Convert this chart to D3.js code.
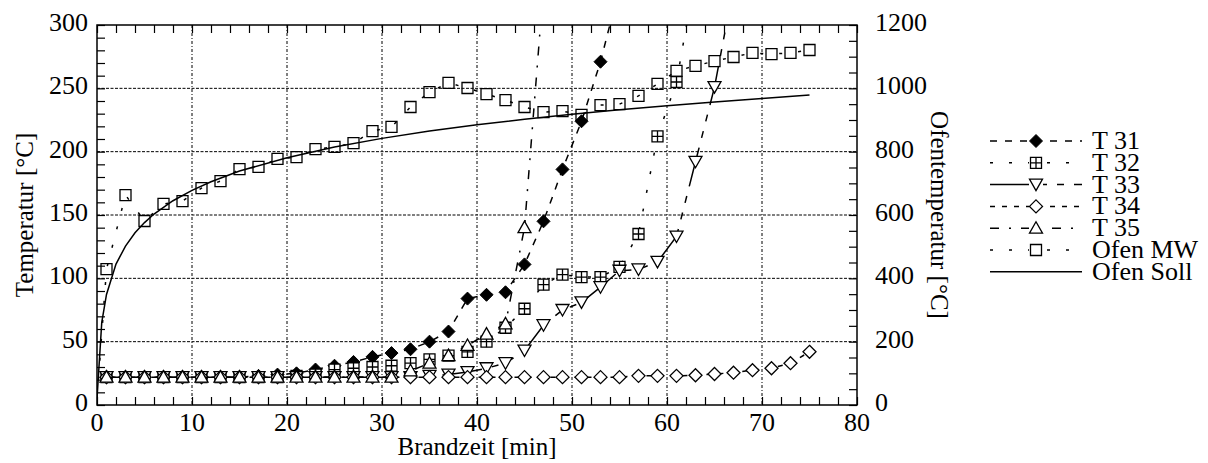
<!DOCTYPE html>
<html>
<head>
<meta charset="utf-8">
<script src="https://cdn.jsdelivr.net/npm/d3@7"></script>
<style>
  html, body { margin: 0; padding: 0; background: #fff; }
  svg { display: block; }
</style>
</head>
<body>
<svg id="chart" width="1208" height="463"></svg>
<script>
// ---------------- DATA ----------------
const xTicks = [0, 10, 20, 30, 40, 50, 60, 70, 80];
const yTicksLeft = [0, 50, 100, 150, 200, 250, 300];
const yTicksRight = [0, 200, 400, 600, 800, 1000, 1200];

// measurement times (min), markers at odd minutes
const tT31 = [1,3,5,7,9,11,13,15,17,19,21,23,25,27,29,31,33,35,37,39,41,43,45,47,49,51,53,55];
const vT31 = [22,22,22,22,22,22,22,22,23,24,25,28,31,34,38,41,44,50,58,84,87,89,111,145,186,224,271,330];

const tT32 = [1,3,5,7,9,11,13,15,17,19,21,23,25,27,29,31,33,35,37,39,41,43,45,47,49,51,53,55,57,59,61,63];
const vT32 = [22,22,22,22,22,22,22,22,22,22,23,24,28,29,30,31,33,36,39,42,50,61,76,95,103,101,101,109,135,212,255,340];

const tT33 = [1,3,5,7,9,11,13,15,17,19,21,23,25,27,29,31,33,35,37,39,41,43,45,47,49,51,53,55,57,59,61,63,65,67];
const vT33 = [22,22,22,22,22,22,22,22,22,22,22,22,22,22,22,22,22,23,24,26,29,33,43,63,75,81,93,106,107,113,133,192,251,330];

const tT34 = [1,3,5,7,9,11,13,15,17,19,21,23,25,27,29,31,33,35,37,39,41,43,45,47,49,51,53,55,57,59,61,63,65,67,69,71,73,75];
const vT34 = [22,22,22,22,22,22,22,22,22,22,22,22,22,22,22,22,22,22,22,22,22,22,22,22,22,22,22,22,23,23,23,23.5,24.5,25.5,27.5,29,33,42];

const tT35 = [1,3,5,7,9,11,13,15,17,19,21,23,25,27,29,31,33,35,37,39,41,43,45,47];
const vT35 = [22,22,22,22,22,22,22,22,22,22,22,22,22,22,22,22,27,33,39,47,56,64,140,330];

// furnace (right axis)
const tOfenMW = [0,1,3,5,7,9,11,13,15,17,19,21,23,25,27,29,31,33,35,37,39,41,43,45,47,49,51,53,55,57,59,61,63,65,67,69,71,73,75];
const vOfenMW = [20,429,663,581,635,644,685,707,745,752,777,783,808,815,827,865,878,941,988,1017,1001,982,963,941,925,928,916,947,950,976,1014,1055,1071,1086,1099,1112,1108,1112,1121];

const tOfenSoll = [0,0.5,1,2,3,4,5,6,8,10,12,15,20,25,30,35,40,45,50,55,60,65,70,75];
const vOfenSoll = [20,261,349,445,502,544,576,603,645,678,705,739,781,815,842,865,885,902,918,932,945,957,968,979];

const legendLabels = ["T 31", "T 32", "T 33", "T 34", "T 35", "Ofen MW", "Ofen Soll"];

// ---------------- LAYOUT ----------------
const FONT = '"Liberation Serif", "Times New Roman", serif';
const svg = d3.select("#chart");
const L = 97, R = 857, T = 25, B = 405;
const x = d3.scaleLinear().domain([0, 80]).range([L, R]);
const yL = d3.scaleLinear().domain([0, 300]).range([B, T]);
const yR = d3.scaleLinear().domain([0, 1200]).range([B, T]);

svg.append("defs").append("clipPath").attr("id", "clip")
  .append("rect").attr("x", L).attr("y", T).attr("width", R - L).attr("height", B - T);

// grid
const grid = svg.append("g");
grid.selectAll(".gv").data(xTicks.filter(d => d > 0 && d < 80)).join("line")
  .attr("x1", d => x(d)).attr("x2", d => x(d)).attr("y1", T).attr("y2", B)
  .attr("stroke", "#000").attr("stroke-width", 1).attr("stroke-dasharray", "3,2,1,2");
grid.selectAll(".gh").data(yTicksLeft.filter(d => d > 0 && d < 300)).join("line")
  .attr("x1", L).attr("x2", R).attr("y1", d => yL(d)).attr("y2", d => yL(d))
  .attr("stroke", "#000").attr("stroke-width", 1).attr("stroke-dasharray", "3,1.5");

// axes with inward ticks
const tickLen = 8;
const axB = d3.axisBottom(x).tickValues(d3.range(0, 81, 2)).tickSize(-tickLen).tickFormat("");
const axT = d3.axisTop(x).tickValues(d3.range(0, 81, 2)).tickSize(-tickLen).tickFormat("");
const axL = d3.axisLeft(yL).tickValues(d3.range(0, 301, 10)).tickSize(-tickLen).tickFormat("");
const axR = d3.axisRight(yR).tickValues(d3.range(0, 1201, 50)).tickSize(-tickLen).tickFormat("");
function styleAxis(g) {
  g.select(".domain").remove();
  g.selectAll(".tick line").attr("stroke", "#000").attr("stroke-width", 1.2);
}
svg.append("g").attr("transform", `translate(0,${B})`).call(axB).call(styleAxis);
svg.append("g").attr("transform", `translate(0,${T})`).call(axT).call(styleAxis);
svg.append("g").attr("transform", `translate(${L},0)`).call(axL).call(styleAxis);
svg.append("g").attr("transform", `translate(${R},0)`).call(axR).call(styleAxis);

// tick labels
const fs = 26;
const txt = sel => sel.style("font-family", FONT).attr("fill", "#000");
svg.append("g").selectAll("text").data(xTicks).join("text").call(txt)
  .attr("x", d => x(d)).attr("y", B + 26).attr("text-anchor", "middle")
  .style("font-size", fs + "px").text(d => d);
svg.append("g").selectAll("text").data(yTicksLeft).join("text").call(txt)
  .attr("x", L - 9).attr("y", d => yL(d) + 6).attr("text-anchor", "end")
  .style("font-size", fs + "px").text(d => d);
svg.append("g").selectAll("text").data(yTicksRight).join("text").call(txt)
  .attr("x", R + 18).attr("y", d => yR(d) + 6).attr("text-anchor", "start")
  .style("font-size", fs + "px").text(d => d);

// axis titles
svg.append("text").call(txt).attr("x", (L + R) / 2).attr("y", 455).attr("text-anchor", "middle")
  .style("font-size", "25px").text("Brandzeit [min]");
svg.append("text").call(txt).attr("transform", `translate(33,${(T + B) / 2}) rotate(-90)`)
  .attr("text-anchor", "middle").style("font-size", "25px")
  .text("Temperatur [°C]");
svg.append("text").call(txt).attr("transform", `translate(931,${(T + B) / 2}) rotate(90)`)
  .attr("text-anchor", "middle").style("font-size", "25px")
  .text("Ofentemperatur [°C]");

// ---------------- MARKERS ----------------
function marker(g, type, fill) {
  const sw = 1.3;
  if (type === "diamondFilled") {
    g.append("path").attr("d", "M0,-6.5L6.5,0L0,6.5L-6.5,0Z").attr("fill", "#000").attr("stroke", "#000").attr("stroke-width", 1);
  } else if (type === "diamond") {
    g.append("path").attr("d", "M0,-6.5L6.5,0L0,6.5L-6.5,0Z").attr("fill", fill).attr("stroke", "#000").attr("stroke-width", sw);
  } else if (type === "squareCross") {
    g.append("path").attr("d", "M-5.5,-5.5H5.5V5.5H-5.5Z").attr("fill", fill).attr("stroke", "#000").attr("stroke-width", sw);
    g.append("path").attr("d", "M0,-5.5V5.5 M-5.5,0H5.5").attr("fill", "none").attr("stroke", "#000").attr("stroke-width", sw);
  } else if (type === "triDown") {
    g.append("path").attr("d", "M-6.5,-5.5L6.5,-5.5L0,6Z").attr("fill", fill).attr("stroke", "#000").attr("stroke-width", sw);
  } else if (type === "triUp") {
    g.append("path").attr("d", "M0,-6.5L6.5,5L-6.5,5Z").attr("fill", fill).attr("stroke", "#000").attr("stroke-width", sw);
  } else if (type === "square") {
    g.append("path").attr("d", "M-5.5,-5.5H5.5V5.5H-5.5Z").attr("fill", fill).attr("stroke", "#000").attr("stroke-width", sw);
  }
}

const series = [
  { t: tT31, v: vT31, y: yL, dash: "7,8", marker: "diamondFilled", fill: "#000" },
  { t: tT32, v: vT32, y: yL, dash: "3,16", marker: "squareCross", fill: "#fff" },
  { t: tT33, v: vT33, y: yL, dash: "40,10,7,10,7,10", marker: "triDown", fill: "#fff" },
  { t: tT34, v: vT34, y: yL, dash: "5,7", marker: "diamond", fill: "#fff" },
  { t: tT35, v: vT35, y: yL, dash: "9,10,2,10", marker: "triUp", fill: "#fff" },
  { t: tOfenMW, v: vOfenMW, y: yR, dash: "3,16", marker: "square", fill: "none" },
  { t: tOfenSoll, v: vOfenSoll, y: yR, dash: null, marker: null, fill: "none" }
];

const plot = svg.append("g").attr("clip-path", "url(#clip)");
series.forEach(s => {
  const pts = s.t.map((t, i) => [t, s.v[i]]);
  const line = d3.line().x(d => x(d[0])).y(d => s.y(d[1]));
  const p = plot.append("path").datum(pts).attr("d", line)
    .attr("fill", "none").attr("stroke", "#000").attr("stroke-width", 1.5);
  if (s.dash) p.attr("stroke-dasharray", s.dash);
  if (!s.marker) return;
  s.t.forEach((t, i) => {
    if (t === 0) return;
    const g = plot.append("g").attr("transform", `translate(${x(t)},${s.y(s.v[i])})`);
    marker(g, s.marker, s.fill);
  });
});

// frame
svg.append("rect").attr("x", L).attr("y", T).attr("width", R - L).attr("height", B - T)
  .attr("fill", "none").attr("stroke", "#000").attr("stroke-width", 1.5);

// ---------------- LEGEND ----------------
const lg = svg.append("g");
const ly0 = 141, ldy = 21.8, lx1 = 990, lx2 = 1082, lxm = 1036, ltx = 1092;
legendLabels.forEach((lab, i) => {
  const s = series[i];
  const yy = ly0 + i * ldy;
  const ln = lg.append("line").attr("x1", lx1).attr("x2", lx2).attr("y1", yy).attr("y2", yy)
    .attr("stroke", "#000").attr("stroke-width", 1.5);
  if (s.dash) ln.attr("stroke-dasharray", s.dash);
  if (s.marker) {
    const g = lg.append("g").attr("transform", `translate(${lxm},${yy})`);
    g.append("rect").attr("x", -7).attr("y", -7).attr("width", 14).attr("height", 14).attr("fill", "#fff");
    marker(g, s.marker, s.fill === "none" ? "#fff" : s.fill);
  }
  lg.append("text").call(txt).attr("x", ltx).attr("y", yy + 8)
    .style("font-size", "26px").text(lab);
});
</script>
</body>
</html>
